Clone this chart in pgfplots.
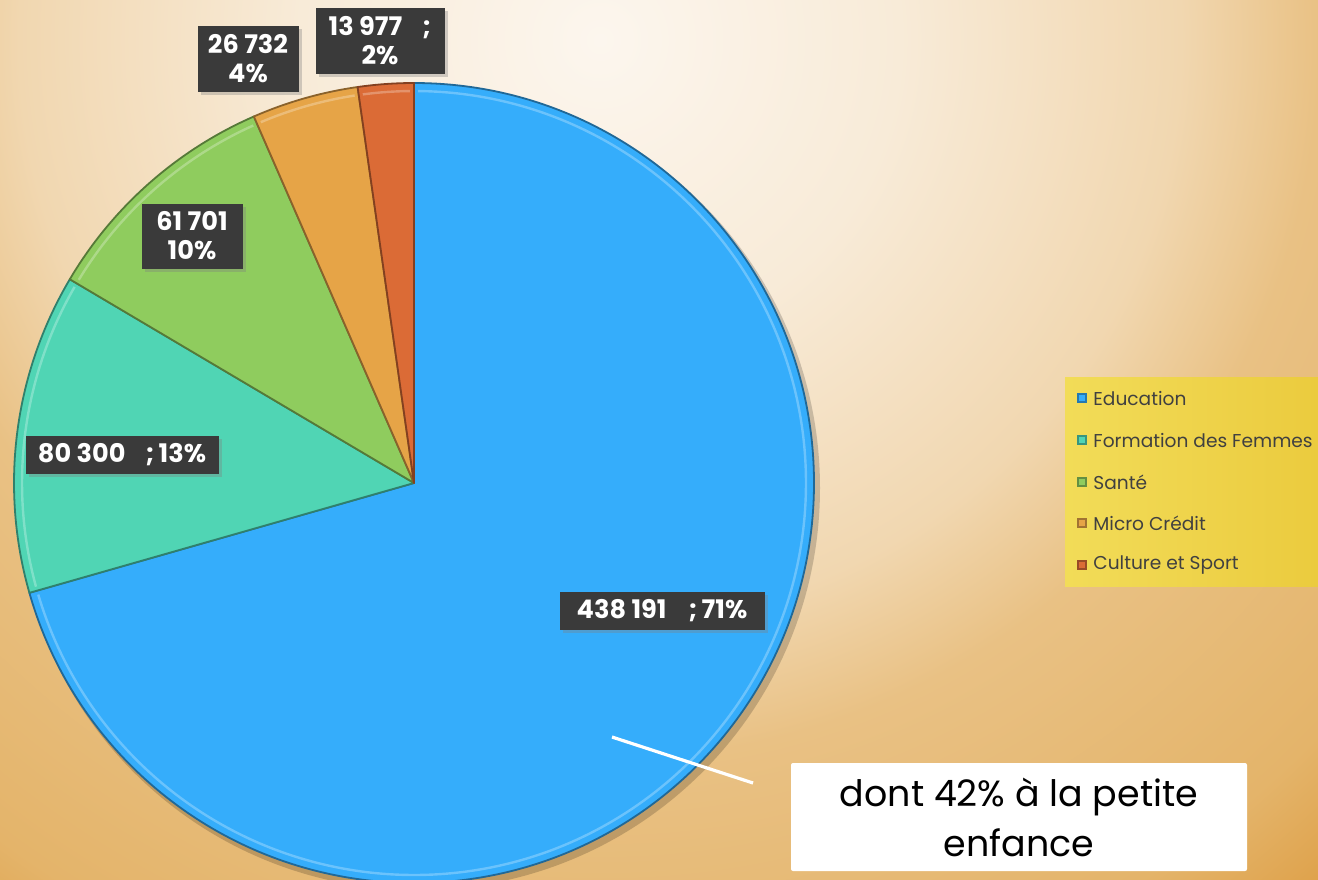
\documentclass[border=0pt]{standalone}
\usepackage{pgfplots}
\pgfplotsset{compat=1.18}
\usepackage{pgfplotstable}
\usepackage{fontspec}
\setmainfont{Poppins}
\usetikzlibrary{shadows}

\definecolor{pc0}{HTML}{35ADFB}
\definecolor{pc1}{HTML}{50D5B4}
\definecolor{pc2}{HTML}{8FCC5E}
\definecolor{pc3}{HTML}{E6A447}
\definecolor{pc4}{HTML}{DB6B36}
\definecolor{lblbg}{HTML}{3A3A3A}
\definecolor{legtxt}{HTML}{404040}
\definecolor{lgA}{HTML}{F2DC58}
\definecolor{lgB}{HTML}{EBCB3E}
\definecolor{bg0}{HTML}{FCF6EE}
\definecolor{bg1}{HTML}{F8EBD8}
\definecolor{bg2}{HTML}{F1D7B0}
\definecolor{bg3}{HTML}{E9C184}
\definecolor{bg4}{HTML}{E4B46A}
\definecolor{bg5}{HTML}{DEA048}

\pgfdeclareradialshading{bgshade}{\pgfpoint{0bp}{0bp}}{%
 color(0bp)=(bg0); color(6.25bp)=(bg1); color(12.1bp)=(bg2);
 color(15bp)=(bg3); color(20.8bp)=(bg4); color(23.3bp)=(bg5); color(50bp)=(bg5)}

% data: Education, Formation des Femmes, Santé, Micro Crédit, Culture et Sport
\pgfplotstableread{
value
438191
80300
61701
26732
13977
}\piedata

\gdef\pietotal{0}
\pgfplotstableforeachcolumnelement{value}\of\piedata\as\v{\xdef\pietotal{\fpeval{\pietotal+\v}}}
\gdef\piecum{0}
\pgfplotstableforeachcolumnelement{value}\of\piedata\as\v{%
 \expandafter\xdef\csname pieS\pgfplotstablerow\endcsname{\fpeval{round(90-360*\piecum/\pietotal,4)}}%
 \xdef\piecum{\fpeval{\piecum+\v}}%
 \expandafter\xdef\csname pieE\pgfplotstablerow\endcsname{\fpeval{round(90-360*\piecum/\pietotal,4)}}%
}
\newcommand\PS[1]{\csname pieS#1\endcsname}
\newcommand\PE[1]{\csname pieE#1\endcsname}

\tikzset{lbl/.style={fill=lblbg, text=white, align=center, inner sep=0pt,
  font=\fontsize{12.8}{14.5}\selectfont\bfseries,
  drop shadow={opacity=0.35, shadow xshift=1.5pt, shadow yshift=-1.5pt}}}

\begin{document}
\begin{tikzpicture}
\begin{axis}[name=ax, width=659pt, height=439.5pt, scale only axis,
  xmin=0, xmax=1318, ymin=0, ymax=879, y dir=reverse, hide axis, clip=false]
 % background
 \begin{scope}
  \clip (0,0) rectangle (1318,879);
  \shade[shading=bgshade] (-600,-1160) rectangle (1800,1240);
 \end{scope}
 % shadow of pie
 \fill[black, opacity=0.18] (418,488) circle[radius=201pt];
 % slices
 \pgfplotsinvokeforeach{0,...,4}{%
  \filldraw[fill=pc#1, draw=pc#1!60!black, line width=0.9pt, line join=round]
    (414,483) -- ++(\PS{#1}:200pt) arc[start angle=\PS{#1}, end angle=\PE{#1}, radius=200pt] -- cycle;
  \draw[pc#1!55!white, line width=1.2pt, opacity=0.6]
    (414,483) ++(\PS{#1}-0.6:196pt) arc[start angle=\PS{#1}-0.6, end angle=\PE{#1}+0.6, radius=196pt];
 }
 % data labels
 \node[lbl, minimum width=102.5pt, minimum height=19pt] at (662,611) {438 191\hspace{11pt};\,71\%};
 \node[lbl, minimum width=96.5pt, minimum height=19pt] at (122,455) {80 300\hspace{10pt};\,13\%};
 \node[lbl, minimum width=50.5pt, minimum height=32.5pt] at (192,236) {61 701\\10\%};
 \node[lbl, minimum width=50.5pt, minimum height=33pt] at (248,59) {26 732\\4\%};
 \node[lbl, minimum width=64.5pt, minimum height=33pt] at (380,41) {13 977\hspace{10pt};\\2\%};
 % legend
 \shade[left color=lgA, right color=lgB] (1065,377) rectangle (1318,586);
 \pgfplotsinvokeforeach{0,...,4}{%
  \fill[pc#1!70!black] (1077,{393+41.75*#1}) rectangle (1087,{403+41.75*#1});
  \fill[pc#1] (1079,{395+41.75*#1}) rectangle (1085,{401+41.75*#1});
 }
 \begin{scope}[every node/.style={anchor=west, text=legtxt, inner sep=0pt, font=\fontsize{9.3}{11}\selectfont}]
  \node at (1093,398) {Education};
  \node at (1093,440) {Formation des Femmes};
  \node at (1093,482) {Santé};
  \node at (1093,523.5) {Micro Crédit};
  \node at (1093,565) {Culture et Sport};
 \end{scope}
 % callout
 \draw[white, line width=1.6pt] (612,737) -- (753,783);
 \node[fill=white, rounded corners=1pt, minimum width=228pt, minimum height=54pt, inner sep=0pt,
   align=center, font=\fontsize{18.2}{25}\selectfont] at (1019,817) {dont 42\% à la petite\\enfance};
\end{axis}
\pgfresetboundingbox
\path (ax.south west) rectangle (ax.north east);
\end{tikzpicture}
\end{document}
